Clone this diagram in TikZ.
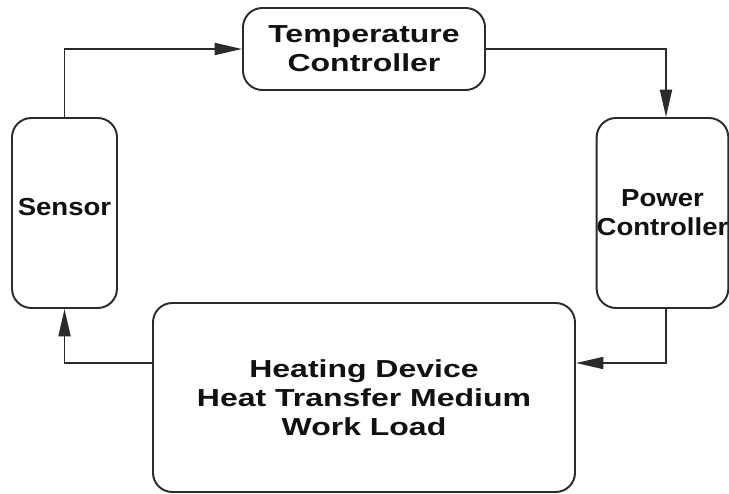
\documentclass[tikz,border=0pt]{standalone}
\usepackage{fontspec}
\setmainfont[FakeStretch=1.3]{Liberation Sans}
\newfontfamily\sideFont[FakeStretch=1.12]{Liberation Sans}
\usetikzlibrary{arrows.meta, positioning, calc}
\definecolor{lineDark}{HTML}{2B2B2B}
\definecolor{textDark}{HTML}{111111}
\tikzset{
  arrowK/.style={-{Triangle[length=5.5mm, width=2.4mm]}, lineDark, line width=1.1pt},
  loopBox/.style={rectangle, rounded corners=11pt, draw=lineDark, line width=1.1pt,
                  fill=white, text=textDark, align=center, font=\bfseries\fontsize{14}{16.5}\selectfont,
                  inner sep=0pt},
  sideBox/.style={loopBox, font=\sideFont\bfseries\fontsize{14}{16.5}\selectfont,
                  minimum height=3.8cm},
}
\begin{document}
\begin{tikzpicture}
    \useasboundingbox (0,0) rectangle (14.58,-9.88);
    \node[loopBox, minimum width=4.84cm, minimum height=1.64cm] (tc) at (7.28,-0.98) {Temperature\\Controller};
    \node[sideBox, minimum width=2.1cm] (sensor) at (1.29,-4.26) {\raisebox{0.24cm}{Sensor}};
    \node[sideBox, minimum width=2.62cm] (power) at (13.25,-4.26) {Power\\Controller};
    \node[loopBox, minimum width=8.44cm, minimum height=3.78cm] (load) at (7.28,-7.95) {Heating Device\\Heat Transfer Medium\\Work Load};
    \draw[arrowK] (sensor.north) |- (tc.west);
    \draw[arrowK] (tc.east) -| ([xshift=0.07cm]power.north);
    \draw[arrowK] ([xshift=0.07cm]power.south) |- ([yshift=0.69cm]load.east);
    \draw[arrowK] ([yshift=0.69cm]load.west) -| (sensor.south);
  \end{tikzpicture}
\end{document}
